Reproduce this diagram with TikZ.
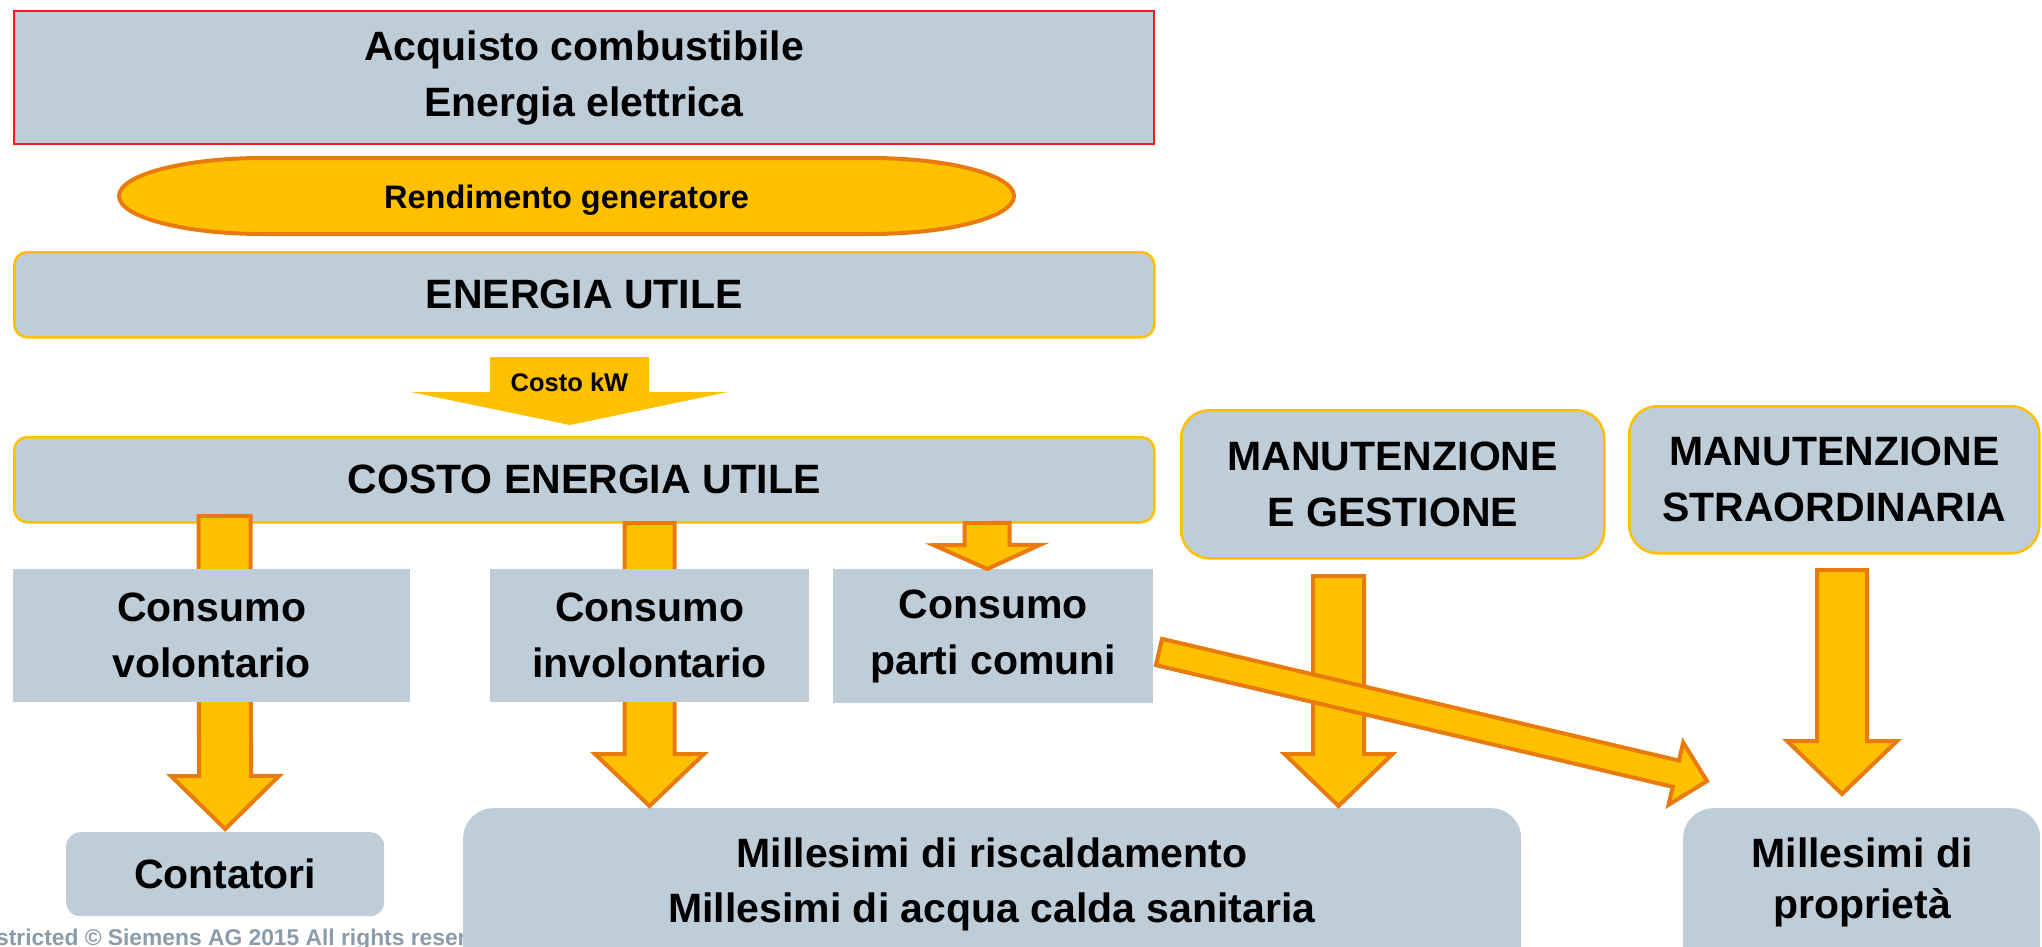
\documentclass[tikz,border=0pt]{standalone}
\usepackage{fontspec}
\setmainfont{Liberation Sans}
\usetikzlibrary{calc}

\definecolor{boxgray}{HTML}{BFCDD9}
\definecolor{amber}{HTML}{FFC000}
\definecolor{darkorange}{HTML}{E97B0E}
\definecolor{framered}{HTML}{F21C24}
\definecolor{footgray}{HTML}{8A9BAB}

\newcommand{\bigfont}{\bfseries\fontsize{41}{56}\selectfont}
\newcommand{\rendfont}{\bfseries\fontsize{32.5}{38}\selectfont}
\newcommand{\kwfont}{\bfseries\fontsize{25.5}{30}\selectfont}
\newcommand{\millfont}{\bfseries\fontsize{41}{55}\selectfont}
\newcommand{\propfont}{\bfseries\fontsize{41}{51}\selectfont}
\newcommand{\footfont}{\bfseries\fontsize{22.8}{27}\selectfont}

% from, to, half shaft, half head, head length
\newcommand{\blockarrow}[5]{%
  \coordinate (ba-head) at ($(#2)!#5!(#1)$);
  \draw[blockarr] ($(#1)!#3!90:(#2)$) -- ($(ba-head)!#3!90:(#2)$) -- ($(ba-head)!#4!90:(#2)$)
    -- (#2) -- ($(ba-head)!#4!-90:(#2)$) -- ($(ba-head)!#3!-90:(#2)$) -- ($(#1)!#3!-90:(#2)$) -- cycle;
}

\tikzset{
  box/.style={fill=boxgray, inner sep=0pt, align=center, font=\bigfont, anchor=north west},
  goldbox/.style={box, draw=amber, line width=2.5pt},
  blockarr/.style={fill=amber, draw=darkorange, line width=4pt},
}

\begin{document}
\begin{tikzpicture}[x=1pt, y=-1pt]
        \clip (0,0) rectangle (2042,947);

        \node[box, draw=framered, line width=2pt, minimum width=1140pt, minimum height=133pt] (acquisto) at (13,10) {Acquisto combustibile\\Energia elettrica};

        \draw[fill=amber, draw=darkorange, line width=4pt] (263,158) -- (870,158)
            arc[start angle=-90, end angle=90, x radius=144, y radius=38] -- (263,234)
            arc[start angle=90, end angle=270, x radius=144, y radius=38] -- cycle;
        \node[font=\rendfont] (rendimento) at (566.5,200) {Rendimento generatore};

        \node[goldbox, rounded corners=13pt, minimum width=1140pt, minimum height=85pt] (energia) at (13,251) {ENERGIA UTILE};

        \fill[amber] (490,357) -- (649,357) -- (649,392) -- (728,392) -- (570,425) -- (411,392) -- (490,392) -- cycle;
        \node[font=\kwfont] (costokw) at (569.5,382) {Costo kW};

        \node[goldbox, rounded corners=13pt, minimum width=1140pt, minimum height=85pt] (costo) at (13,436) {COSTO ENERGIA UTILE};

        \node[font=\footfont, text=footgray, anchor=base west, inner sep=0pt] (copyright) at (-56,945) {Unrestricted © Siemens AG 2015 All rights reserved};

        \node[box, rounded corners=14pt, minimum width=318pt, minimum height=84pt] (contatori) at (66,832) {Contatori};
        \node[box, rounded corners=30pt, minimum width=1058pt, minimum height=180pt] (riscaldamento) at (463,808) {};
        \node[font=\millfont, align=center] (riscaldamentotxt) at (992,884.5) {Millesimi di riscaldamento\\Millesimi di acqua calda sanitaria};
        \node[box, rounded corners=30pt, minimum width=357pt, minimum height=180pt] (proprieta) at (1683,808) {};
        \node[font=\propfont, align=center] (proprietatxt) at (1862,882) {Millesimi di\\proprietà};

        \coordinate (v1) at (224.5,516);
        \coordinate (v2) at (649.5,523);
        \blockarrow{v1}{[yshift=3pt]contatori.north}{26pt}{54pt}{53pt}
        \blockarrow{v2}{[yshift=2pt]riscaldamento.north -| v2}{25pt}{54.5pt}{52pt}

        \node[box, minimum width=397pt, minimum height=133pt] (volontario) at (13,569) {Consumo\\volontario};
        \node[box, minimum width=319pt, minimum height=133pt] (involontario) at (490,569) {Consumo\\involontario};
        \node[box, minimum width=320pt, minimum height=134pt] (parti) at (833,569) {Consumo\\parti comuni};

        \coordinate (v3) at (987,523);
        \blockarrow{v3}{[xshift=-6pt]parti.north}{22.5pt}{53pt}{24pt}

        \node[goldbox, rounded corners=28pt, minimum width=423pt, minimum height=148pt] (gestione) at (1180,409) {MANUTENZIONE\\E GESTIONE};
        \node[goldbox, rounded corners=28pt, minimum width=410pt, minimum height=147pt] (straordinaria) at (1628,405) {MANUTENZIONE\\STRAORDINARIA};

        \coordinate (v4) at (1338.5,576);
        \coordinate (v4e) at (1338.5,806);
        \coordinate (v5) at (1842,570);
        \coordinate (v5e) at (1842,794);
        \coordinate (d1) at (1159,652);
        \coordinate (d1e) at (1707,781);
        \blockarrow{v4}{v4e}{25.5pt}{54pt}{52pt}
        \blockarrow{v5}{v5e}{25pt}{55pt}{53pt}
        \blockarrow{d1}{d1e}{13.5pt}{32pt}{32pt}
    \end{tikzpicture}
\end{document}
